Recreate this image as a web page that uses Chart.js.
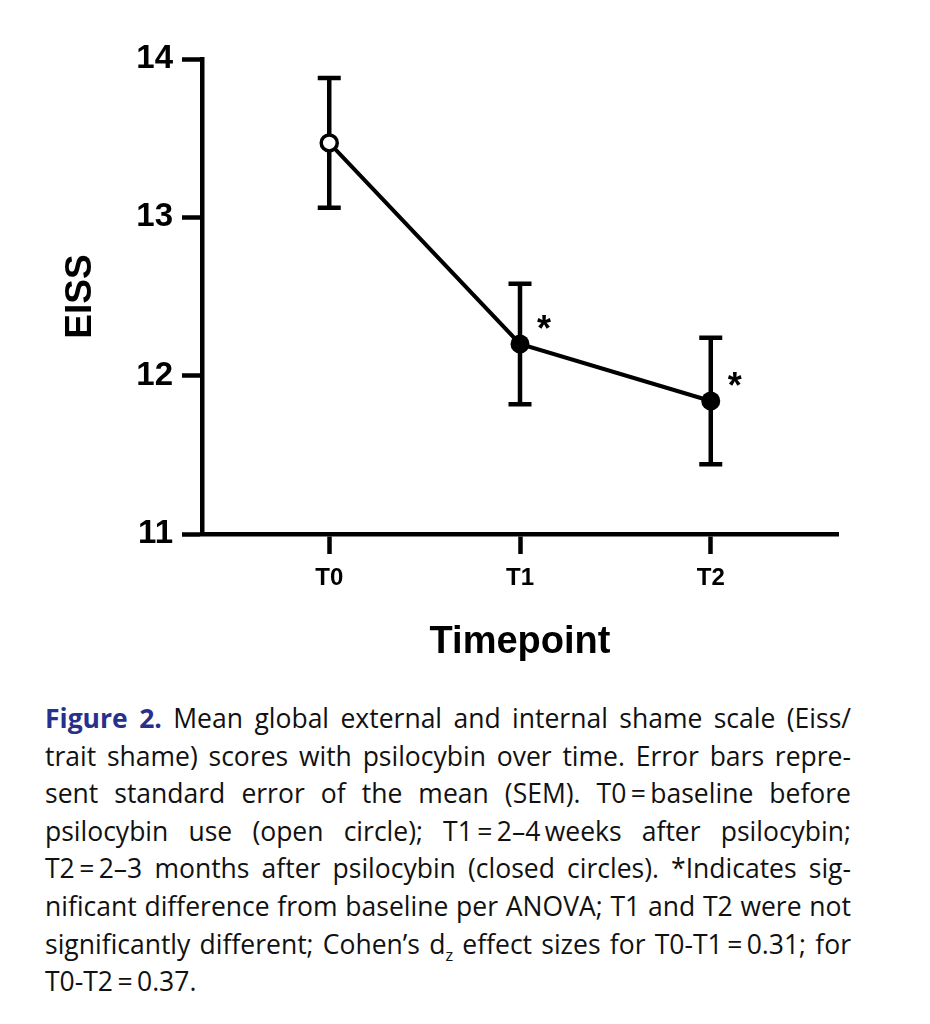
<!DOCTYPE html>
<html>
<head>
<meta charset="utf-8">
<title>Figure 2 - EISS over time</title>
<script src="https://cdn.jsdelivr.net/npm/chart.js@4.4.0/dist/chart.umd.min.js"></script>
<style>
    html, body { margin:0; padding:0; background:#fff; }
    .wrap { position:relative; width:930px; height:1024px; overflow:hidden; }
    #cnv-eiss { position:absolute; left:0; top:0; }
    .caption {
        position:absolute; left:45px; top:700px; width:806px;
        font-family:"Open Sans", "Noto Sans", sans-serif; font-size:26.5px;
        line-height:37.6px; color:#111;
    }
    .caption .ln { width:806px; white-space:nowrap; }
    .caption .fig { color:#27318b; font-weight:700; }
    .caption .sub { font-size:0.62em; position:relative; top:7px; line-height:0; }
</style>
</head>
<body>
<div class="wrap">
    <canvas id="cnv-eiss" width="930" height="700"></canvas>
    <div class="caption">
        <div class="ln"><span><span class="fig">Figure 2.</span> Mean global external and internal shame scale (Eiss/</span></div>
        <div class="ln"><span>trait shame) scores with psilocybin over time. Error bars repre-</span></div>
        <div class="ln"><span>sent standard error of the mean (SEM). T0&#8201;=&#8201;baseline before</span></div>
        <div class="ln"><span>psilocybin use (open circle); T1&#8201;=&#8201;2–4&#8201;weeks after psilocybin;</span></div>
        <div class="ln"><span>T2&#8201;=&#8201;2–3 months after psilocybin (closed circles). *Indicates sig-</span></div>
        <div class="ln"><span>nificant difference from baseline per ANOVA; T1 and T2 were not</span></div>
        <div class="ln"><span>significantly different; Cohen’s d<span class="sub">z</span> effect sizes for T0-T1&#8201;=&#8201;0.31; for</span></div>
        <div class="ln last"><span>T0-T2&#8201;=&#8201;0.37.</span></div>
    </div>
</div>
<script>
//--------------------------------------
// Data
//--------------------------------------
var timepoints = ['T0', 'T1', 'T2'];
var eissMean = [13.47, 12.20, 11.84];
var eissSem = [0.41, 0.38, 0.40];
var significant = [false, true, true];
var openPoint = [true, false, false];
var yTicks = [11, 12, 13, 14];

(function(win){

    var init = function(){
        Chart.defaults.font.family = '"Liberation Sans", Arial, sans-serif';
        Chart.defaults.color = '#000';
        setChart();
        fitCaption();
    };

    //--------------------------------------
    // Plugins
    //--------------------------------------
    var errorBarsPlugin = {
        id: 'errorBars',
        beforeDatasetsDraw: function(chart){
            var ctx = chart.ctx;
            var xs = chart.scales.x;
            var ys = chart.scales.y;
            var capHalf = 11.5;
            ctx.save();
            ctx.strokeStyle = '#000';
            ctx.lineWidth = 4.5;
            eissMean.forEach(function(m, i){
                var x = xs.getPixelForValue(i);
                var yTop = ys.getPixelForValue(m + eissSem[i]);
                var yBot = ys.getPixelForValue(m - eissSem[i]);
                ctx.beginPath();
                ctx.moveTo(x, yTop);
                ctx.lineTo(x, yBot);
                ctx.moveTo(x - capHalf, yTop);
                ctx.lineTo(x + capHalf, yTop);
                ctx.moveTo(x - capHalf, yBot);
                ctx.lineTo(x + capHalf, yBot);
                ctx.stroke();
            });
            ctx.restore();
        },
        afterDatasetsDraw: function(chart){
            //significance stars next to the points
            var ctx = chart.ctx;
            var xs = chart.scales.x;
            var ys = chart.scales.y;
            var size = 36;
            ctx.save();
            ctx.fillStyle = '#000';
            ctx.font = 'bold ' + size + 'px "Liberation Sans", Arial, sans-serif';
            ctx.textAlign = 'center';
            ctx.textBaseline = 'alphabetic';
            eissMean.forEach(function(m, i){
                if(!significant[i]) return;
                var x = xs.getPixelForValue(i) + 24;
                var y = ys.getPixelForValue(m) - 23;
                ctx.fillText('*', x, y + size * 0.555);
            });
            ctx.restore();
        }
    };

    //--------------------------------------
    // Chart
    //--------------------------------------
    var setChart = function(){
        var cnv = document.getElementById('cnv-eiss');
        var points = eissMean.map(function(m, i){
            return { x: i, y: m };
        });

        new Chart(cnv, {
            type: 'line',
            data: {
                datasets: [{
                    data: points,
                    borderColor: '#000',
                    borderWidth: 4,
                    tension: 0,
                    pointRadius: openPoint.map(function(o){ return o ? 8 : 9.5; }),
                    pointBorderWidth: openPoint.map(function(o){ return o ? 3.5 : 0; }),
                    pointBackgroundColor: openPoint.map(function(o){ return o ? '#fff' : '#000'; }),
                    pointBorderColor: '#000'
                }]
            },
            options: {
                responsive: false,
                animation: false,
                devicePixelRatio: 1,
                layout: { padding: { left: 0, top: 59, right: 92, bottom: 0 } },
                plugins: {
                    legend: { display: false },
                    tooltip: { enabled: false }
                },
                scales: {
                    x: {
                        type: 'linear',
                        min: -0.667,
                        max: 2.667,
                        afterBuildTicks: function(scale){
                            scale.ticks = timepoints.map(function(t, i){ return { value: i }; });
                        },
                        afterFit: function(scale){ scale.height = 166; },
                        border: { display: true, color: '#000', width: 4.5 },
                        grid: {
                            drawOnChartArea: false,
                            drawTicks: true,
                            tickLength: 20,
                            tickWidth: 4.5,
                            tickColor: '#000'
                        },
                        ticks: {
                            padding: 9.5,
                            maxRotation: 0,
                            font: { size: 24, weight: 'bold' },
                            callback: function(v){ return timepoints[v]; }
                        },
                        title: {
                            display: true,
                            text: 'Timepoint',
                            font: { size: 38, weight: 'bold' },
                            padding: { top: 0, bottom: 35 }
                        }
                    },
                    y: {
                        min: yTicks[0],
                        max: yTicks[yTicks.length - 1],
                        afterBuildTicks: function(scale){
                            scale.ticks = yTicks.map(function(v){ return { value: v }; });
                        },
                        afterFit: function(scale){ scale.width = 202; },
                        border: { display: true, color: '#000', width: 4.5 },
                        grid: {
                            drawOnChartArea: false,
                            drawTicks: true,
                            tickLength: 20,
                            tickWidth: 4.5,
                            tickColor: '#000'
                        },
                        ticks: {
                            padding: 9,
                            font: { size: 33, weight: 'bold' }
                        },
                        title: {
                            display: true,
                            text: 'EISS',
                            font: { size: 37, weight: 'bold' },
                            padding: { top: 59, bottom: 0 }
                        }
                    }
                }
            },
            plugins: [errorBarsPlugin]
        });
    };

    //--------------------------------------
    // Caption: justify each line, squeeze if too wide
    //--------------------------------------
    var fitCaption = function(){
        var lines = document.querySelectorAll('.caption .ln');
        var full = 806;
        Array.prototype.forEach.call(lines, function(ln){
            var span = ln.firstElementChild;
            var w = span.getBoundingClientRect().width;
            if(w > full){
                span.style.display = 'inline-block';
                span.style.transformOrigin = '0 0';
                span.style.transform = 'scaleX(' + (full / w) + ')';
            }else if(!ln.classList.contains('last')){
                ln.style.whiteSpace = 'normal';
                ln.style.textAlign = 'justify';
                ln.style.textAlignLast = 'justify';
            }
        });
    };

    init();

})(window);
</script>
</body>
</html>
